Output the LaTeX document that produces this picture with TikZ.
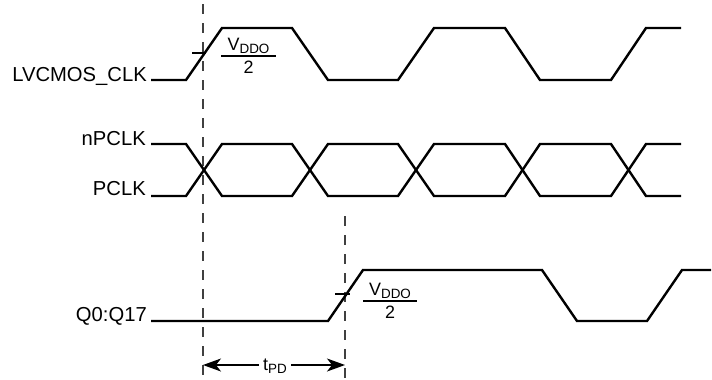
\documentclass[tikz,border=0pt]{standalone}
\usepackage{fontspec}
\setmainfont{Liberation Sans}
\usetikzlibrary{arrows.meta}
\newcommand\mysubx[1]{\raisebox{-0.35ex}{\fontsize{13.5}{14}\selectfont #1}}
\tikzset{
  wave/.style={line width=2.4bp, line join=miter},
  guide/.style={line width=1.3bp, draw=black!75, dash pattern=on 10bp off 9bp},
  tick/.style={line width=1.1bp},
  sig/.style={font=\fontsize{20.3}{23}\selectfont, anchor=base east, inner sep=0pt},
  frac/.style={font=\fontsize{18}{21}\selectfont, inner sep=0pt},
  dim/.style={line width=1.2bp, -{Stealth[length=18bp,width=13bp,inset=5bp]}}
}
\begin{document}
\begin{tikzpicture}[x=1bp,y=-1bp]
\useasboundingbox (0,0) rectangle (712,379);
% labels
\node[sig] (lclk) at (147,81) {LVCMOS\_CLK};
\node[sig] (npclk) at (146,145) {nPCLK};
\node[sig] (pclk) at (146,195) {PCLK};
\node[sig] (q) at (147,321) {Q0:Q17};
% guides
\coordinate (g1t) at (203,4);
\coordinate (g1b) at (203,379);
\coordinate (g2t) at (345,216);
\coordinate (g2b) at (345,379);
\draw[guide] (g1t) -- (g1b);
\draw[guide] (g2t) -- (g2b);
% waveforms
\draw[wave] (151,80) -- (186,80) -- (222,28) -- (292,28) -- (328,80) -- (398,80) -- (434,28) -- (505,28) -- (540,80) -- (611,80) -- (646,28) -- (681,28);
\draw[wave] (151,144) -- (186,144) -- (222,196) -- (292,196) -- (328,144) -- (398,144) -- (434,196) -- (505,196) -- (540,144) -- (611,144) -- (646,196) -- (681,196);
\draw[wave] (151,196) -- (186,196) -- (222,144) -- (292,144) -- (328,196) -- (398,196) -- (434,144) -- (505,144) -- (540,196) -- (611,196) -- (646,144) -- (681,144);
\draw[wave] (151,321) -- (328,321) -- (363,270) -- (542,270) -- (577,321) -- (647,321) -- (682,270) -- (711,270);
% ticks
\draw[tick] (192,53) -- (206,53);
\draw[tick] (335,294) -- (350,294);
% VDDO/2 labels
\node[frac, anchor=base] (v1) at (248.5,50) {V\mysubx{DDO}};
\draw[tick] (221,56) -- (276,56);
\node[frac, anchor=base] (h1) at (248.5,73) {2};
\node[frac, anchor=base] (v2) at (390,295) {V\mysubx{DDO}};
\draw[tick] (363,301) -- (417,301);
\node[frac, anchor=base] (h2) at (390,318) {2};
% tPD
\node[frac, anchor=center, inner sep=4bp] (tpd) at (275,366) {t\mysubx{PD}};
\coordinate (a1) at (203,365);
\coordinate (a2) at (345,365);
\draw[dim] (tpd.west |- a1) -- (a1);
\draw[dim] (tpd.east |- a2) -- (a2);
\end{tikzpicture}
\end{document}
